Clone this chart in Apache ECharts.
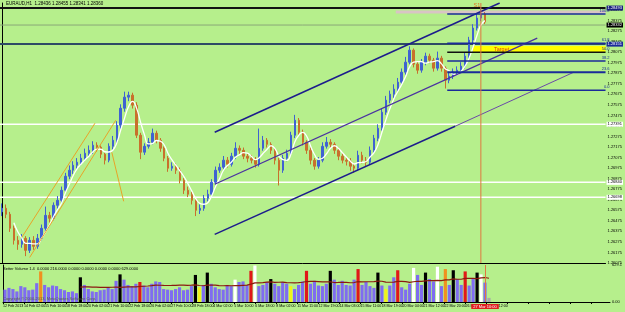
<!DOCTYPE html>
<html><head><meta charset="utf-8">
<script src="https://cdn.jsdelivr.net/npm/echarts@6/dist/echarts.min.js"></script>
<style>html,body{margin:0;padding:0;background:#b6ef8c}#c{width:625px;height:312px}</style>
</head><body><div id="c"></div>
<script>
// ---- data ----
const firstOpen = 1.26560;
const closes = [
1.26594,1.26537,1.26404,1.26290,1.26252,1.26309,1.26195,1.26290,1.26233,1.26309,
1.26404,1.26527,1.26499,1.26622,1.26670,1.26765,1.26898,1.26955,1.27002,1.27031,
1.27069,1.27116,1.27144,1.27192,1.27173,1.27107,1.27050,1.27182,1.27239,1.27382,
1.27543,1.27648,1.27667,1.27572,1.27287,1.27126,1.27182,1.27220,1.27306,1.27239,
1.27163,1.27069,1.26974,1.26993,1.26955,1.26860,1.26765,1.26727,1.26670,1.26575,
1.26594,1.26689,1.26727,1.26841,1.26955,1.26983,1.27050,1.27012,1.27088,1.27163,
1.27144,1.27088,1.27069,1.27050,1.27012,1.27163,1.27239,1.27201,1.27144,1.27050,
1.26955,1.27069,1.27116,1.27287,1.27429,1.27315,1.27220,1.27144,1.27050,1.26993,
1.27050,1.27182,1.27220,1.27201,1.27144,1.27088,1.27050,1.27040,1.26993,1.26974,
1.27097,1.27050,1.27031,1.27144,1.27258,1.27353,1.27505,1.27619,1.27676,1.27724,
1.27790,1.27885,1.27980,1.28094,1.27961,1.27904,1.27980,1.28037,1.27999,1.27923,
1.28018,1.27923,1.27809,1.27847,1.27885,1.27904,1.27942,1.28037,1.28189,1.28303,
1.28398,1.28436,1.28360];
const highs = [
1.26640,1.26630,1.26560,1.26430,1.26330,1.26350,1.26330,1.26320,1.26330,1.26350,
1.26440,1.26610,1.26560,1.26650,1.26710,1.26800,1.26930,1.27000,1.27040,1.27070,
1.27110,1.27160,1.27190,1.27230,1.27220,1.27190,1.27120,1.27210,1.27280,1.27420,
1.27580,1.27700,1.27700,1.27690,1.27600,1.27310,1.27210,1.27260,1.27350,1.27330,
1.27260,1.27180,1.27090,1.27030,1.27020,1.26980,1.26880,1.26800,1.26750,1.26690,
1.26630,1.26720,1.26770,1.26870,1.26990,1.27020,1.27090,1.27080,1.27120,1.27220,
1.27190,1.27170,1.27110,1.27100,1.27080,1.27350,1.27280,1.27260,1.27220,1.27160,
1.27070,1.27100,1.27150,1.27320,1.27480,1.27450,1.27340,1.27240,1.27170,1.27070,
1.27080,1.27220,1.27270,1.27250,1.27220,1.27170,1.27120,1.27080,1.27070,1.27020,
1.27140,1.27130,1.27080,1.27180,1.27290,1.27390,1.27540,1.27660,1.27710,1.27770,
1.27830,1.27920,1.28030,1.28130,1.28110,1.27990,1.28010,1.28070,1.28060,1.28020,
1.28080,1.28040,1.27940,1.27880,1.27920,1.27940,1.27980,1.28070,1.28220,1.28340,
1.28440,1.28490,1.28455];
const lows = [
1.26520,1.26500,1.26370,1.26250,1.26200,1.26220,1.26140,1.26170,1.26200,1.26210,
1.26290,1.26380,1.26460,1.26480,1.26590,1.26640,1.26740,1.26870,1.26920,1.26970,
1.27000,1.27040,1.27090,1.27110,1.27130,1.27070,1.27010,1.27030,1.27150,1.27210,
1.27350,1.27510,1.27610,1.27540,1.27260,1.27060,1.27100,1.27160,1.27200,1.27210,
1.27130,1.27040,1.26940,1.26950,1.26920,1.26830,1.26730,1.26700,1.26630,1.26520,
1.26540,1.26570,1.26660,1.26700,1.26820,1.26930,1.26960,1.26980,1.26990,1.27060,
1.27110,1.27060,1.27030,1.27020,1.26980,1.26990,1.27140,1.27170,1.27110,1.27010,
1.26810,1.26930,1.27040,1.27090,1.27260,1.27290,1.27190,1.27110,1.27010,1.26960,
1.26970,1.27030,1.27160,1.27170,1.27110,1.27050,1.27020,1.27000,1.26950,1.26930,
1.26950,1.27020,1.26990,1.27010,1.27120,1.27230,1.27330,1.27480,1.27590,1.27640,
1.27700,1.27760,1.27860,1.27960,1.27930,1.27870,1.27880,1.27950,1.27970,1.27890,
1.27900,1.27890,1.27730,1.27780,1.27820,1.27860,1.27880,1.27920,1.28010,1.28160,
1.28280,1.28370,1.28341];
const volumes = [
210,240,220,180,270,250,200,210,320,520,
290,250,280,270,220,200,170,180,150,420,
290,220,180,170,200,210,250,220,360,470,
380,290,270,310,340,280,250,310,350,340,
220,210,200,220,250,200,210,270,460,250,
290,500,310,250,220,210,290,270,380,340,
350,290,530,620,270,290,340,390,310,270,
340,310,270,220,290,350,530,310,360,280,
270,310,530,380,290,360,290,280,380,560,
290,340,270,240,500,280,220,280,420,540,
250,210,310,580,460,290,500,390,350,600,
270,560,290,540,390,290,520,280,400,500,
470,330,70];
const volTypes = [
'b','b','b','b','b','b','b','b','b','o',
'b','b','b','b','b','b','b','b','b','k',
'b','b','b','b','b','b','b','b','b','k',
'b','b','b','b','r','b','b','b','b','b',
'b','b','b','b','b','b','b','b','k','y',
'b','k','b','b','b','b','b','b','w','b',
'b','b','r','w','b','b','b','k','b','b',
'b','b','y','b','b','b','r','b','b','b',
'b','b','k','b','b','b','b','b','b','r',
'b','b','b','b','k','b','y','b','b','r',
'b','b','b','w','b','b','k','b','b','w',
'b','o','b','k','b','b','r','b','b','k',
'w','b','g'];
const dateLabels = ['12 Feb 2013','14 Feb 02:00','15 Feb 10:00','18 Feb 18:00','20 Feb 02:00','21 Feb 10:00',
'22 Feb 18:00','26 Feb 02:00','27 Feb 10:00','28 Feb 18:00','4 Mar 02:00','5 Mar 10:00','6 Mar 18:00',
'8 Mar 02:00','11 Mar 11:00','12 Mar 19:00','14 Mar 03:00','15 Mar 11:00','18 Mar 19:00','20 Mar 04:00',
'21 Mar 12:00','22 Mar 20:00','26 Mar 04:00','27 Mar 12:00'];
const cursorTime = '27 Mar 10:00';
const cursorBar = 121;
// horizontal levels
const blackLevel = 1.28493, greyLevel = 1.28332, tealLevel = 1.28151;
const whiteLevels = [1.27391, 1.26840, 1.26698];
const fibLevels = [1.28436, 1.28160, 1.28075, 1.27990, 1.27884, 1.27714];
const fibNames = ['100.0','61.8','50.0','38.2','23.6','0.0'];
const fibStart = 112.5;
const topBand = [[99.5, 1.28455],[152.5, 1.28455]];
const targetZone = [[119, 1.28132],[152.5, 1.28075]];
// trend lines [barIndex, price]
const chanUpper = [[53.75,1.27315],[125.75,1.28541]];
const chanMid = [[53.75,1.26822],[135.25,1.28208]];
const chanLow = [[53.75,1.26347],[114.5,1.27372]];
const chanLowExt = [[114.5,1.27372],[144.5,1.27885]];
const orange1 = [[5,1.26318],[23.5,1.27401]];
const orange2 = [[7,1.26128],[28.75,1.27429]];
const orange3 = [[27.75,1.27125],[30.75,1.26660]];

// ---- build ----
const NSLOT = 153, LEFT = -0.5, RIGHT = 152.5, PMIN = 1.26075, PMAX = 1.28541;
const cats = Array.from({length: NSLOT}, (_, i) => String(i));
const candles = closes.map((c, i) => [i === 0 ? firstOpen : closes[i-1], c, lows[i], highs[i]]);
function sma(arr, n){ return arr.map((_, i) => { if (i < n-1) return null; let s=0; for(let j=i-n+1;j<=i;j++) s+=arr[j]; return +(s/n).toFixed(5); }); }
const maData = sma(closes, 4);
const volMa = sma(volumes, 20);
const volColor = {b:'#7f6cf0', k:'#000000', r:'#e01818', w:'#ffffff', y:'#f2f21a', o:'#f09020', g:'#a8a8a8'};
const volData = volumes.map((v, i) => ({value: v, itemStyle: {color: volColor[volTypes[i]]}}));
const FONT = 'Liberation Sans';

function seg(data, color, width, extra){
  return Object.assign({type:'line', xAxisIndex:2, yAxisIndex:0, data: data, symbol:'none', silent:true,
    lineStyle:{color: color, width: width, type:'solid'}, z: 4, animation:false}, extra || {});
}
function level(p, color, width, bg, fg){
  return seg([[LEFT, p],[RIGHT, p]], color, width, {z:2, endLabel:{show:true, distance:1,
    formatter: p.toFixed(5), backgroundColor: bg, color: fg, fontSize:4, fontFamily: FONT, padding:[1,1,0,1]}});
}
const levelSeries = [
  level(blackLevel, '#111', 2, '#1a237e', '#fff'),
  level(greyLevel, '#8aa878', 1, '#000', '#fff'),
  level(tealLevel, '#2e4a66', 2, '#1a2a9a', '#fff')
].concat(whiteLevels.map(v => level(v, '#ffffff', 1.5, '#ffffff', '#000')));

const fibSeries = fibLevels.map((p, k) => seg([[fibStart, p],[RIGHT, p]],
  k === 2 ? '#111' : '#1a2a9a', k === 4 ? 2 : 1.5,
  Object.assign({endLabel:{show:true, formatter: fibNames[k], align:'right', verticalAlign:'bottom', offset:[-4,-1],
     fontSize:4, fontFamily:FONT, color:'#1a2a9a'}},
  k === 2 ? {markArea:{silent:true, z:1, itemStyle:{color:'#ffff00'},
     label:{show:true, position:'insideLeft', formatter:'Target', color:'#e04010', fontSize:5.5, fontFamily:FONT, offset:[16,0]},
     data:[[{coord: targetZone[0]}, {coord: targetZone[1]}]]}} : {})));

const option = {
  animation:false,
  backgroundColor:'#b6ef8c',
  title:[
    {text:'EURAUD,H1  1.28436 1.28455 1.28341 1.28360', left:6, top:1, padding:0,
     textStyle:{fontSize:4.5, fontWeight:'normal', color:'#000', fontFamily:FONT}},
    {text:'Better Volume 1.4  0.0000 216.0000 0.0000 0.0000 0.0000 0.0000 629.0000', left:3, top:267, padding:0,
     textStyle:{fontSize:4, fontWeight:'normal', color:'#000', fontFamily:FONT}},
    {text:'Copyright © 2000-2013, MetaQuotes Software Corp.', left:3, top:297, padding:0,
     textStyle:{fontSize:4, fontWeight:'normal', color:'#555', fontFamily:FONT}}
  ],
  grid:[
    {left:0, right:13, top:3, height:260},
    {left:0, right:13, top:265, height:37}
  ],
  xAxis:[
    {type:'category', gridIndex:0, data:cats, boundaryGap:true, axisLabel:{show:false}, axisTick:{show:false},
     axisLine:{show:true, lineStyle:{color:'#000', width:1}}, splitLine:{show:false}},
    {type:'category', gridIndex:1, data:cats, boundaryGap:true, show:false},
    {type:'value', gridIndex:0, min:LEFT, max:RIGHT, show:false},
    {type:'value', gridIndex:1, min:0, max:153, interval:5.3, position:'bottom',
     axisLine:{show:true, lineStyle:{color:'#000'}}, axisTick:{show:true, length:2, lineStyle:{color:'#000'}},
     splitLine:{show:false},
     axisLabel:{show:true, fontSize:3.6, fontFamily:FONT, color:'#000', align:'left', margin:2, hideOverlap:false,
       showMinLabel:true, showMaxLabel:false,
       formatter: v => { const r = v/5.3, i = Math.round(r); return (Math.abs(r-i) < 0.01 && i < dateLabels.length) ? dateLabels[i] : ''; }}}
  ],
  yAxis:[
    {type:'value', gridIndex:0, position:'right', min:PMIN, max:PMAX, interval:0.00025,
     axisLine:{show:true, lineStyle:{color:'#000'}}, axisTick:{show:false}, splitLine:{show:false},
     axisLabel:{show:true, fontSize:4, fontFamily:FONT, color:'#000', margin:2, showMaxLabel:false, hideOverlap:false,
       formatter: v => (Math.round(v*100000) % 100 === 75) ? v.toFixed(5) : ''}},
    {type:'value', gridIndex:1, position:'right', min:0, max:629.1, interval:629.1,
     axisLine:{show:true, lineStyle:{color:'#000'}}, axisTick:{show:false}, splitLine:{show:false},
     axisLabel:{show:true, fontSize:4, fontFamily:FONT, color:'#000', margin:2,
       formatter: v => v === 0 ? '0.00' : v.toFixed(1)}}
  ],
  series: levelSeries.concat([
    seg(topBand, '#d8c4c4', 3, {z:2}),
    {type:'candlestick', xAxisIndex:0, yAxisIndex:0, data:candles, barWidth:2, z:3,
     itemStyle:{color:'#3f62d2', color0:'#c8702c', borderColor:'#3f62d2', borderColor0:'#c8702c', borderWidth:1},
     markPoint:{symbol:'circle', symbolSize:0, silent:true,
       data:[{coord:[120, 1.28515], label:{show:true, formatter:'S1', color:'#e07020', fontSize:5.5, fontFamily:FONT}}]}},
    {type:'line', xAxisIndex:0, yAxisIndex:0, data:maData, symbol:'none', smooth:true, silent:true, z:4,
     lineStyle:{color:'#ffffff', width:1.3}},
    seg([[cursorBar, PMIN],[cursorBar, PMAX]], '#e07840', 1, {z:5}),
    seg(chanUpper, '#1c1c8c', 1.5),
    seg(chanMid, '#4a32a0', 1.3),
    seg(chanLow, '#1c1c8c', 1.5),
    seg(chanLowExt, '#6a4aa8', 1),
    seg(orange1, '#e8a428', 1),
    seg(orange2, '#e8a428', 1),
    seg(orange3, '#e8a428', 1)
  ]).concat(fibSeries).concat([
    {type:'bar', xAxisIndex:1, yAxisIndex:1, data:volData, barWidth:'80%', z:2,
     markLine:{symbol:['none','none'], silent:true, animation:false,
       data:[{xAxis: cursorBar, lineStyle:{color:'#e07840', width:1, type:'solid'},
         label:{show:true, position:'start', distance:2, formatter: cursorTime, backgroundColor:'#e02020', color:'#fff',
           fontSize:4, fontFamily:FONT, padding:[1,2,0,2]}}]}},
    {type:'line', xAxisIndex:1, yAxisIndex:1, data:volMa, symbol:'none', silent:true, z:3,
     lineStyle:{color:'#8b1a10', width:1.2}}
  ])
};
const chart = echarts.init(document.getElementById('c'));
chart.setOption(option);
</script></body></html>
